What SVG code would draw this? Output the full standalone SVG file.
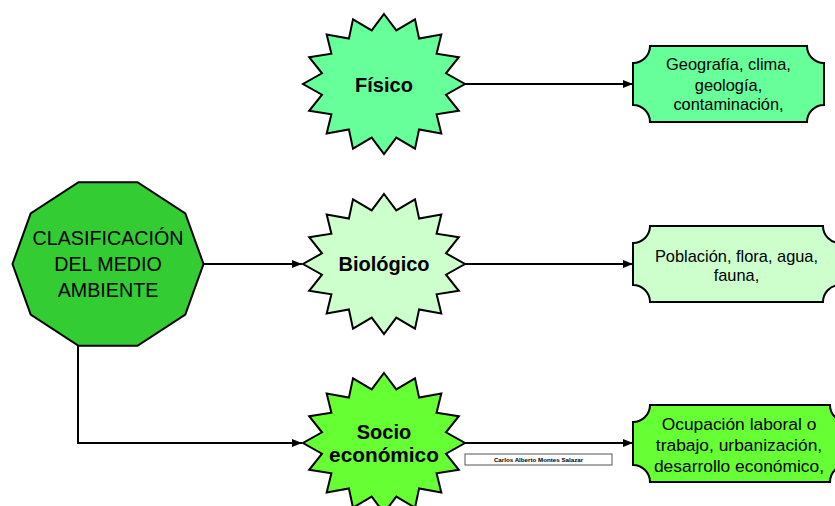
<svg xmlns="http://www.w3.org/2000/svg" width="835" height="506" viewBox="0 0 835 506">
<style>
.shape{stroke:#000;stroke-width:2;stroke-linejoin:miter}
.conn{fill:none;stroke:#000;stroke-width:2}
.t{font-family:"Liberation Sans",Arial,sans-serif;fill:#000;text-anchor:middle}
.big{font-size:19.7px}
.star{font-size:20px;font-weight:bold}
.box{font-size:16.4px}
.box3{font-size:17.4px}
.sig{font-size:6.2px;font-weight:bold}
</style>
<defs>
<marker id="arr" markerUnits="userSpaceOnUse" markerWidth="11" markerHeight="9" refX="10" refY="4" orient="auto">
<path d="M0,0 L10,4 L0,8 Z" fill="#000"/>
</marker>
<path id="star16" d="M0,-70 L12.3,-53.6 L31,-64.7 L35.1,-45.4 L57.3,-49.5 L52.6,-30.3 L74.8,-26.8 L62,-10.7 L81,0 L62,10.7 L74.8,26.8 L52.6,30.3 L57.3,49.5 L35.1,45.4 L31,64.7 L12.3,53.6 L0,70 L-12.3,53.6 L-31,64.7 L-35.1,45.4 L-57.3,49.5 L-52.6,30.3 L-74.8,26.8 L-62,10.7 L-81,0 L-62,-10.7 L-74.8,-26.8 L-52.6,-30.3 L-57.3,-49.5 L-35.1,-45.4 L-31,-64.7 L-12.3,-53.6 Z"/>
</defs>
<rect width="835" height="506" fill="#fff"/>
<g id="connectors">
<path class="conn" d="M465,84 H633" marker-end="url(#arr)"/>
<path class="conn" d="M203.5,264 H302" marker-end="url(#arr)"/>
<path class="conn" d="M465,264 H633" marker-end="url(#arr)"/>
<path class="conn" d="M78,346 V443 H302" marker-end="url(#arr)"/>
<path class="conn" d="M465,443 H633" marker-end="url(#arr)"/>
</g>
<g id="clasificacion">
<polygon class="shape" fill="#33CC33" points="203.5,264 185.3,213.4 137.5,182.2 78.5,182.2 30.7,213.4 12.5,264 30.7,314.6 78.5,345.8 137.5,345.8 185.3,314.6"/>
<text class="t big" x="108" y="245">CLASIFICACIÓN</text>
<text class="t big" x="108" y="270.7">DEL MEDIO</text>
<text class="t big" x="108" y="296.7">AMBIENTE</text>
</g>
<g id="fisico">
<use href="#star16" class="shape" fill="#66FF99" transform="translate(384,84)"/>
<text class="t star" x="384" y="91.5">Físico</text>
</g>
<g id="biologico">
<use href="#star16" class="shape" fill="#CCFFCC" transform="translate(384,264)"/>
<text class="t star" x="384" y="271">Biológico</text>
</g>
<g id="socioeconomico">
<use href="#star16" class="shape" fill="#66FF33" transform="translate(384,443)"/>
<text class="t star" x="384" y="438.5">Socio</text>
<text class="t star" x="384" y="462" style="font-size:20.8px">económico</text>
</g>
<g id="box-fisico">
<path class="shape" fill="#66FF99" d="M650,46 H807 A17,17 0 0 0 824,63 V105 A17,17 0 0 0 807,122 H650 A17,17 0 0 0 633,105 V63 A17,17 0 0 0 650,46 Z"/>
<text class="t box" x="728.5" y="70">Geografía, clima,</text>
<text class="t box" x="728.5" y="90.5">geología,</text>
<text class="t box" x="728.5" y="109.5">contaminación,</text>
</g>
<g id="box-biologico">
<path class="shape" fill="#CCFFCC" d="M650,226 H823 A17,17 0 0 0 840,243 V285 A17,17 0 0 0 823,302 H650 A17,17 0 0 0 633,285 V243 A17,17 0 0 0 650,226 Z"/>
<text class="t box" x="736.5" y="262">Población, flora, agua,</text>
<text class="t box" x="736.5" y="281">fauna,</text>
</g>
<g id="box-socio">
<path class="shape" fill="#66FF33" d="M650,405 H830 A17,17 0 0 0 847,422 V465 A17,17 0 0 0 830,482 H650 A17,17 0 0 0 633,465 V422 A17,17 0 0 0 650,405 Z"/>
<text class="t box3" x="739" y="430">Ocupación laboral o</text>
<text class="t box3" x="739" y="451">trabajo, urbanización,</text>
<text class="t box3" x="739" y="472">desarrollo económico,</text>
</g>
<g id="firma">
<rect x="465" y="454" width="147" height="11" fill="#fff" stroke="#555" stroke-width="1"/>
<text class="t sig" x="538.5" y="461.8">Carlos Alberto Montes Salazar</text>
</g>
</svg>
